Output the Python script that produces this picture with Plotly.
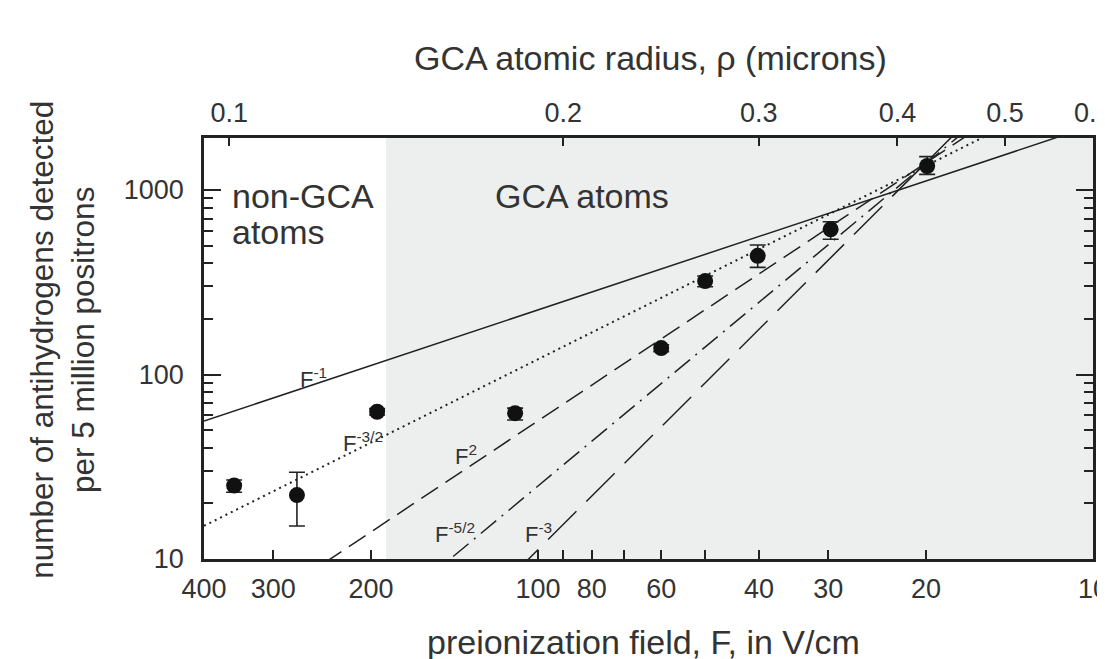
import numpy as np
import plotly.graph_objects as go

# measured antihydrogen yields vs preionization field
field = [353, 272, 195, 110, 60, 50, 40.2, 29.7, 19.9]
counts = [25.0, 22.2, 62.8, 61.7, 139, 321, 440, 612, 1349]
err_plus = [1.8, 7.3, 2.5, 4, 6, 21, 63, 61, 168]
err_minus = [2.0, 7.1, 2.5, 5, 6, 22, 59, 71, 133]

# power-law guide lines  N = C * F^-k
fit_exponents = [1, 1.5, 2, 2.5, 3]
fit_prefactors = [22400, 121000, 561000, 2.49e6, 1.125e7]
fit_dash = ["solid", "2px,4px", "20px,9px", "20px,7px,2px,7px", "40px,14px"]
fit_width = [1.5, 2, 1.5, 1.5, 1.5]

# GCA threshold field and top-axis (radius) ticks
gca_field = 188
rho_ticks = [0.1, 0.2, 0.3, 0.4, 0.5, 0.6]
rho_const = 1.898   # rho = rho_const / sqrt(F)

x_ticks = [400, 300, 200, 100, 90, 80, 70, 60, 50, 40, 30, 20, 10]
x_labels = ["400", "300", "200", "100", "", "80", "", "60", "", "40", "30", "20", "10"]
y_ticks = [10, 100, 1000]
y_minor = [m * d for d in (10, 100) for m in range(2, 10)]

FONT = "Liberation Sans, Arial, sans-serif"
INK = "#222222"
TXT = "#333333"

fig = go.Figure()

# shaded GCA region
fig.add_trace(go.Scatter(
    x=[gca_field, 10, 10, gca_field], y=[1, 1, 1e5, 1e5],
    fill="toself", fillcolor="#edefee", mode="none",
    showlegend=False, hoverinfo="skip"))

f_line = np.array([400.0, 10.0])
for k, c, dash, w in zip(fit_exponents, fit_prefactors, fit_dash, fit_width):
    fig.add_trace(go.Scatter(
        x=f_line, y=c * f_line ** (-k),
        mode="lines",
        line=dict(color=INK, width=w, dash=dash),
        showlegend=False, hoverinfo="skip"))

fig.add_trace(go.Scatter(
    x=field, y=counts,
    mode="markers",
    marker=dict(color="#111111", size=16),
    error_y=dict(type="data", array=err_plus, arrayminus=err_minus,
                 color=INK, thickness=1.6, width=8),
    showlegend=False))

# dummy trace so the top axis is drawn
fig.add_trace(go.Scatter(x=field, y=counts, xaxis="x2", mode="markers",
                         marker=dict(opacity=0), showlegend=False,
                         hoverinfo="skip"))

axis_common = dict(
    type="log", showgrid=False, zeroline=False, automargin=False,
    showline=True, linecolor=INK, linewidth=2.5,
    ticks="inside", tickcolor=INK, tickwidth=2,
    ticklabeloverflow="allow",
    tickfont=dict(family=FONT, size=27, color=TXT),
)

# page body adds an 8px offset, so margins are shifted by that
fig.update_layout(
    width=1105, height=659,
    margin=dict(l=196, r=20, t=130, b=108),
    paper_bgcolor="white", plot_bgcolor="white",
    font=dict(family=FONT, color=TXT),
    xaxis=dict(axis_common, range=[np.log10(400), 1],
               tickmode="array", tickvals=x_ticks, ticktext=x_labels,
               ticklen=9, mirror=True, ticklabelstandoff=4),
    xaxis2=dict(axis_common, range=[np.log10(400), 1],
                overlaying="x", side="top", anchor="y",
                tickmode="array",
                tickvals=[(rho_const / r) ** 2 for r in rho_ticks],
                ticktext=[f"{r:g}" for r in rho_ticks],
                ticklen=8, ticklabelstandoff=2),
    yaxis=dict(axis_common, range=[1, np.log10(1914)],
               tickmode="array", tickvals=y_ticks,
               ticktext=[str(v) for v in y_ticks],
               ticklen=17, mirror="ticks", ticklabelstandoff=12,
               minor=dict(ticks="inside", tickmode="array", tickvals=y_minor,
                          ticklen=9, tickcolor=INK, tickwidth=2)),
)

ann = []
mid = dict(xanchor="center", yanchor="middle", showarrow=False,
           xref="paper", yref="paper")
# axis titles
ann.append(dict(mid, text="GCA atomic radius, \u03c1 (microns)",
                x=0.502, y=1.19, font=dict(size=34)))
ann.append(dict(mid, text="preionization field, F, in V/cm",
                x=0.494, y=-0.198, font=dict(size=34)))
ann.append(dict(mid, text="number of antihydrogens detected<br>per 5 million positrons",
                x=-0.16, y=0.52, textangle=-90, font=dict(size=31.5)))
# region labels
ann.append(dict(mid, text="non-GCA", x=0.029, y=0.862, xanchor="left",
                font=dict(size=34)))
ann.append(dict(mid, text="atoms", x=0.029, y=0.777, xanchor="left",
                font=dict(size=34)))
ann.append(dict(mid, text="GCA atoms", x=0.325, y=0.862, xanchor="left",
                font=dict(size=34)))
# power-law labels (in log data coordinates)
fit_labels = [("F<sup>-1</sup>", 254, 96), ("F<sup>-3/2</sup>", 207, 43),
              ("F<sup>2</sup>", 135, 36.6), ("F<sup>-5/2</sup>", 141, 13.8),
              ("F<sup>-3</sup>", 100, 13.8)]
for t, fx, fy in fit_labels:
    ann.append(dict(text=t, x=np.log10(fx), y=np.log10(fy), xref="x", yref="y",
                    showarrow=False, font=dict(size=22, color=TXT)))
fig.update_layout(annotations=ann)

fig.write_html("out.html")
